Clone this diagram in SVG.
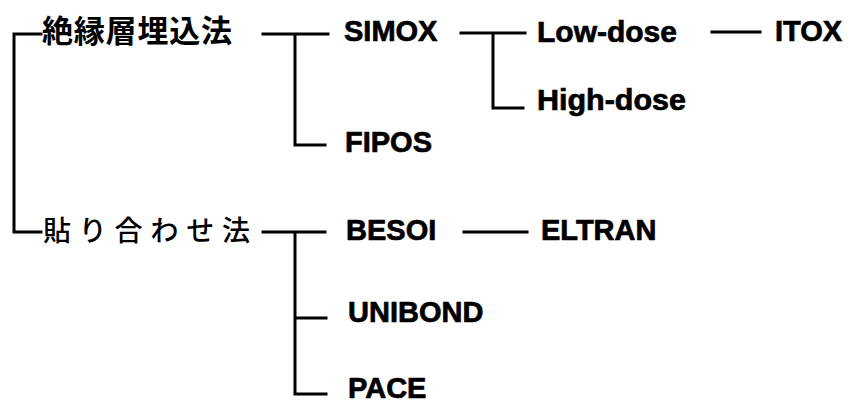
<svg xmlns="http://www.w3.org/2000/svg" width="848" height="405" viewBox="0 0 848 405">
<style>
.bg{fill:#ffffff}
.ln{stroke:#000;stroke-width:3;fill:none;stroke-linecap:square}
.en{font-family:"Liberation Sans",Arial,sans-serif;font-weight:bold;font-size:29px;fill:#000;stroke:#000;stroke-width:0.7}
.jb{font-family:"Noto Sans CJK JP","Noto Sans CJK SC",sans-serif;font-weight:bold;font-size:31px;fill:#000}
.jn{font-family:"Noto Sans CJK JP","Noto Sans CJK SC",sans-serif;font-weight:500;font-size:28px;fill:#000}
</style>
<rect class="bg" x="0" y="0" width="848" height="405"/>
<g id="connectors">
<path class="ln" d="M41,34 H14 V232 H41"/>
<path class="ln" d="M263,34 H328 M295,34 V145 H325"/>
<path class="ln" d="M461,33 H525 M493,33 V108 H523"/>
<path class="ln" d="M712,32 H760"/>
<path class="ln" d="M263,232 H325 M295,232 V394 H326 M295,318 H326"/>
<path class="ln" d="M464,232 H527"/>
</g>
<g id="n-zetsuen"><text class="jb" x="42" y="42" textLength="190" lengthAdjust="spacing">絶縁層埋込法</text></g>
<g id="n-hariawase"><text class="jn" x="43" y="241" textLength="207" lengthAdjust="spacing">貼り合わせ法</text></g>
<g id="n-simox"><text class="en" x="344" y="41">SIMOX</text></g>
<g id="n-fipos"><text class="en" x="345" y="152">FIPOS</text></g>
<g id="n-lowdose"><text class="en" x="537" y="42" textLength="140" lengthAdjust="spacingAndGlyphs">Low-dose</text></g>
<g id="n-highdose"><text class="en" x="537" y="110" textLength="149" lengthAdjust="spacingAndGlyphs">High-dose</text></g>
<g id="n-itox"><text class="en" x="775" y="41">ITOX</text></g>
<g id="n-besoi"><text class="en" x="346" y="240">BESOI</text></g>
<g id="n-eltran"><text class="en" x="541" y="240">ELTRAN</text></g>
<g id="n-unibond"><text class="en" x="348" y="322">UNIBOND</text></g>
<g id="n-pace"><text class="en" x="348" y="398">PACE</text></g>
</svg>
